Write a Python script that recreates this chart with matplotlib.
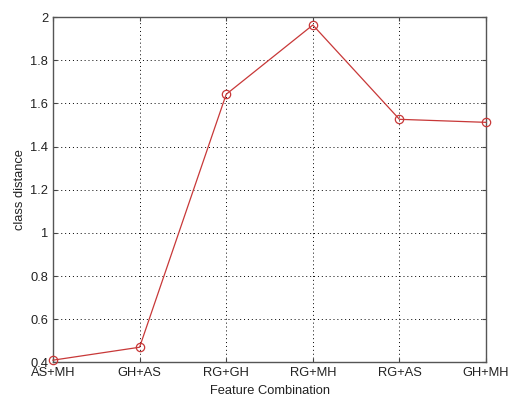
import matplotlib
matplotlib.use("Agg")
import matplotlib.pyplot as plt

categories = ["AS+MH", "GH+AS", "RG+GH", "RG+MH", "RG+AS", "GH+MH"]
values = [0.41, 0.47, 1.642, 1.963, 1.526, 1.512]
yticks = [0.4, 0.6, 0.8, 1.0, 1.2, 1.4, 1.6, 1.8, 2.0]
ytick_labels = ["0.4", "0.6", "0.8", "1", "1.2", "1.4", "1.6", "1.8", "2"]

plt.rcParams['font.family'] = ['Liberation Sans', 'DejaVu Sans']
fig = plt.figure(figsize=(5.09, 3.96), dpi=100)
ax = fig.add_axes([0.104, 0.085, 0.851, 0.872])
x = list(range(len(categories)))
ax.plot(x, values, color='#c83838', linewidth=0.9, marker='o', markersize=6,
        markerfacecolor='none', markeredgecolor='#c83838', markeredgewidth=0.9, clip_on=False, zorder=3)
ax.set_xlim(0, len(categories) - 1)
ax.set_ylim(0.4, 2.0)
ax.set_xticks(x)
ax.set_xticklabels(categories)
ax.set_yticks(yticks)
ax.set_yticklabels(ytick_labels)
ax.grid(True, color='black', linestyle=(0, (1, 3)), linewidth=0.7)
ax.tick_params(direction='in', length=3, labelsize=9.3, top=True, right=True, color='#444444', pad=3.5,
               labelcolor='#222222')
for s in ax.spines.values():
    s.set_color('#555555')
    s.set_linewidth(1.0)
ax.set_xlabel("Feature Combination", fontsize=9.3, labelpad=4, color='#222222')
ax.set_ylabel("class distance", fontsize=9.3, labelpad=3, color='#222222')
fig.savefig("out.png", dpi=100)
